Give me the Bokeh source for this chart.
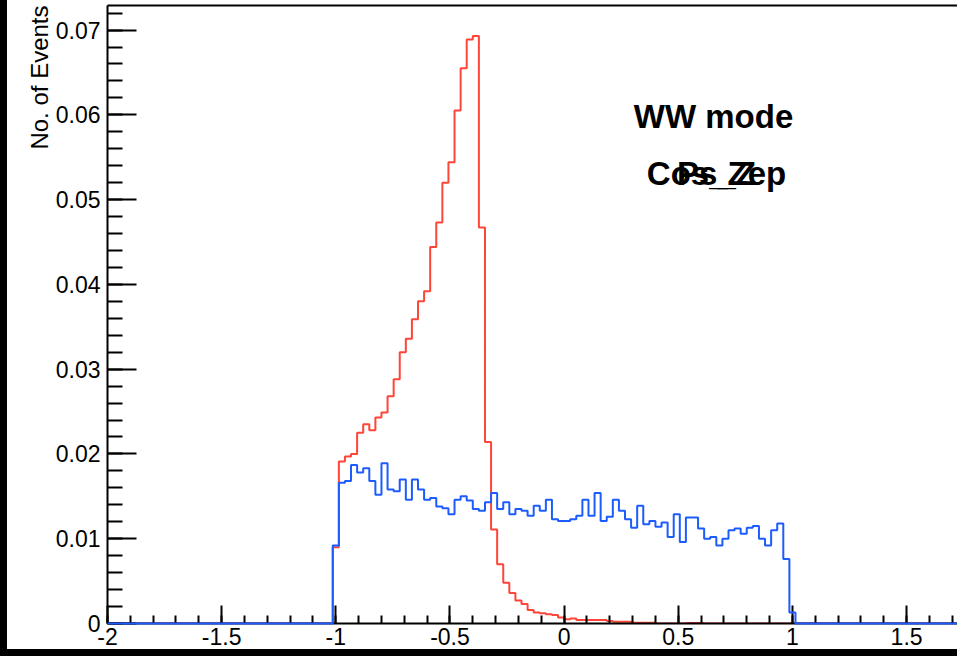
import numpy as np
from bokeh.plotting import figure
from bokeh.layouts import row, column
from bokeh.models import (Range1d, SingleIntervalTicker, FixedTicker, Label,
                          Title, Spacer, LinearAxis)
from bokeh.embed import file_html
from bokeh.resources import INLINE

# ---------------- data ----------------
n_bins = 150
x_min, x_max = -2.0, 2.0
first_bin = 37          # index of first non-empty bin

red_values = [
    0.0090, 0.0191, 0.0197, 0.0200, 0.0225, 0.0235, 0.0228, 0.0243, 0.0249, 0.0268,
    0.0288, 0.0320, 0.0336, 0.0359, 0.0380, 0.0392, 0.0444, 0.0473, 0.0520, 0.0544,
    0.0605, 0.0655, 0.0689, 0.0693, 0.0467, 0.0214, 0.0111, 0.0070, 0.0048, 0.0036,
    0.0027, 0.0023, 0.0016, 0.0013, 0.0012, 0.0011, 0.0010, 0.0007, 0.0005, 0.0006,
    0.0004, 0.0004, 0.0004, 0.0004, 0.0004, 0.0003, 0.0002, 0.0002, 0.0002, 0.0001,
    0.0001, 0.0001, 0.0001, 0.0, 0.0, 0.0, 0.0, 0.0, 0.00005, 0.00005,
    0.00005,
]

blue_values = [
    0.0092, 0.0166, 0.0168, 0.0187, 0.0178, 0.0183, 0.0168, 0.0152, 0.0189, 0.0158,
    0.0156, 0.0170, 0.0146, 0.0170, 0.0158, 0.0146, 0.0148, 0.0138, 0.0136, 0.0129,
    0.0146, 0.0150, 0.0145, 0.0135, 0.0133, 0.0143, 0.0154, 0.0135, 0.0143, 0.0129,
    0.0135, 0.0133, 0.0127, 0.0139, 0.0133, 0.0146, 0.0123, 0.0121, 0.0121, 0.0123,
    0.0127, 0.0146, 0.0127, 0.0154, 0.0121, 0.0126, 0.0146, 0.0133, 0.0123, 0.0113,
    0.0139, 0.0117, 0.0121, 0.0114, 0.0119, 0.0102, 0.0129, 0.0096, 0.0125, 0.0125,
    0.0112, 0.0100, 0.0102, 0.0092, 0.0100, 0.0110, 0.0112, 0.0106, 0.0113, 0.0115,
    0.0100, 0.0092, 0.0110, 0.0118, 0.0076, 0.0013,
]

x_tick_labels = {-2: "-2", -1.5: "-1.5", -1: "-1", -0.5: "-0.5",
                 0: "0", 0.5: "0.5", 1: "1", 1.5: "1.5"}
y_title = "No. of Events"
text_line1 = "WW mode"
text_line2a = "Cos_Zep"
text_line2b = "Ps_Z"

# ---------------- build ----------------
edges = np.linspace(x_min, x_max, n_bins + 1)


def full_counts(vals):
    c = np.zeros(n_bins)
    c[first_bin:first_bin + len(vals)] = vals
    return c


red_c = full_counts(red_values)
blue_c = full_counts(blue_values)

p = figure(width=950, height=656, output_backend="svg", toolbar_location=None,
           x_range=Range1d(-2.0, 1.723), y_range=Range1d(0.0, 0.0729),
           min_border_left=100, min_border_right=0, min_border_top=5,
           min_border_bottom=33)
p.title.visible = False
p.background_fill_color = "white"
p.border_fill_color = "white"
p.outline_line_color = None
p.grid.visible = False

font = "Liberation Sans"

r_red = p.step(edges, np.append(red_c, red_c[-1]), mode="after",
               line_color="#ff4438", line_width=2)
r_blue = p.step(edges, np.append(blue_c, blue_c[-1]), mode="after",
                line_color="#1c5cff", line_width=2)
r_blue.level = "annotation"

# axes
xa = p.xaxis[0]
xa.ticker = SingleIntervalTicker(interval=0.5, num_minor_ticks=5)
xa.major_label_overrides = x_tick_labels
xa.major_tick_in = 18
xa.major_tick_out = 0
xa.minor_tick_in = 8
xa.minor_tick_out = 0
xa.axis_line_width = 2
xa.major_tick_line_width = 2
xa.minor_tick_line_width = 2
xa.major_label_standoff = 4
xa.major_label_text_font = font
xa.major_label_text_font_size = "23px"
xa.major_label_text_color = "black"

ya = p.yaxis[0]
ya.ticker = SingleIntervalTicker(interval=0.01, num_minor_ticks=5)
ya.major_label_overrides = {0: "0"}
ya.major_tick_in = 29
ya.major_tick_out = 0
ya.minor_tick_in = 15
ya.minor_tick_out = 0
ya.axis_line_width = 2
ya.major_tick_line_width = 2
ya.minor_tick_line_width = 2
ya.major_label_standoff = 7
ya.major_label_text_font = font
ya.major_label_text_font_size = "23px"
ya.major_label_text_color = "black"

# top frame line (no ticks, no labels)
top_axis = LinearAxis(ticker=FixedTicker(ticks=[], minor_ticks=[]),
                      major_tick_in=0, major_tick_out=0, minor_tick_in=0,
                      minor_tick_out=0, major_label_standoff=0,
                      axis_line_width=2, axis_line_color="black")
p.add_layout(top_axis, "above")

# y axis title (top aligned, rotated)
p.add_layout(Title(text=y_title, align="right", text_font=font,
                   text_font_size="24px", text_font_style="normal",
                   text_color="black", standoff=0, offset=0), "left")

# texts
p.add_layout(Label(x=0.6545, y=0.05978, text=text_line1, text_align="center",
                   text_baseline="alphabetic", text_font=font,
                   text_font_size="33px", text_font_style="bold",
                   text_color="black"))
p.add_layout(Label(x=0.6675, y=0.05306, text=text_line2a, text_align="center",
                   text_baseline="alphabetic", text_font=font,
                   text_font_size="33px", text_font_style="bold",
                   text_color="black"))
p.add_layout(Label(x=0.6675, y=0.05306, text=text_line2b, text_align="center",
                   text_baseline="alphabetic", text_font=font,
                   text_font_size="33px", text_font_style="bold",
                   text_color="black"))

# black canvas edges (left and bottom)
left_bar = Spacer(width=7, height=656, styles={"background-color": "black"})
bottom_bar = Spacer(width=950, height=7,
                    styles={"background-color": "black", "margin-top": "-7px",
                            "position": "relative", "z-index": "10"})
layout = row(left_bar, column(p, bottom_bar))

open("out.html", "w").write(file_html(layout, INLINE))
